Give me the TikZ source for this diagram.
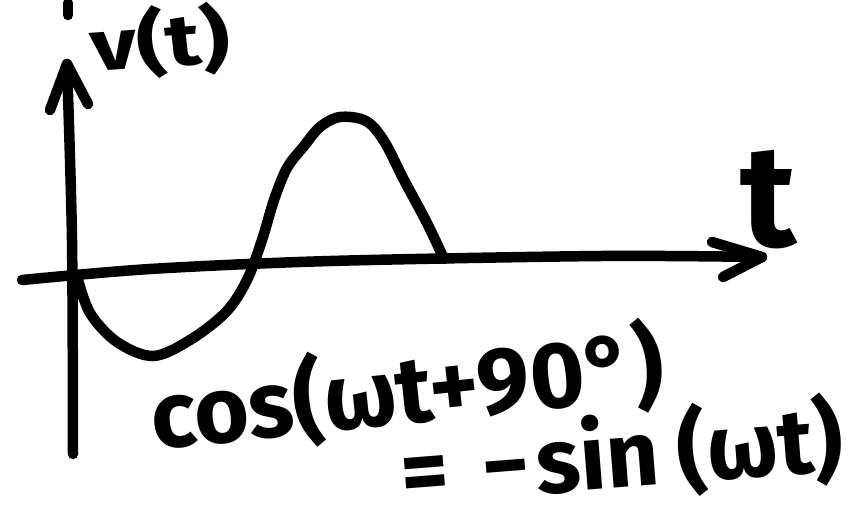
\documentclass[tikz,border=0pt]{standalone}
\usepackage{fontspec}
\setmainfont{Fira Sans}
\begin{document}
\begin{tikzpicture}[x=1pt,y=-1pt,
  ink/.style={line width=10.5pt,line cap=round,line join=round,black},
  hand/.style={font=\bfseries\fontsize{#1}{#1}\selectfont,inner sep=0pt}]
\useasboundingbox (0,0) rectangle (866,531);
% vertical axis with open arrow head
\coordinate (ybot) at (73,454);
\coordinate (ymid) at (72,240);
\coordinate (ytop) at (67,64);
\coordinate (yw1) at (50,110);
\coordinate (yw2) at (88,104);
\draw[ink] plot[smooth] coordinates {(ybot) (ymid) (ytop)};
\draw[ink] (yw1) -- (ytop) -- (yw2);
% horizontal axis with open arrow head
\coordinate (xleft) at (22,280);
\coordinate (xa) at (150,269);
\coordinate (xb) at (330,261);
\coordinate (xc) at (600,256);
\coordinate (xright) at (762,257);
\coordinate (xw1) at (712,242);
\coordinate (xw2) at (723,277);
\draw[ink] plot[smooth] coordinates {(xleft) (xa) (xb) (xc) (xright)};
\draw[ink] (xw1) -- (xright) -- (xw2);
% stray mark at the top
\coordinate (mk1) at (68,3);
\coordinate (mk2) at (68,15);
\draw[ink] (mk1) -- (mk2);
% waveform
\draw[ink] plot[smooth,tension=0.55] coordinates {
  (77,276) (90,313) (117,342) (153,356) (190,340) (226,312) (247,280)
  (262,240) (274,200) (287,168) (304,146) (320,127) (340,117) (366,121)
  (384,141) (404,180) (427,223) (444,259)};
% labels
\node[hand=72,xscale=1.25,rotate=5] (vt) at (160,42) {v(t)};
\node[hand=145] (tl) at (768,200) {t};
\node[hand=94,rotate=6,anchor=base west] (cosl) at (154,450) {cos(ωt+90°)};
\node[hand=92,rotate=4.5,anchor=base west] (sinl) at (403,505)
  {=\hspace{34pt}−\hspace{6pt}sin\hspace{18pt}(ωt)};
\end{tikzpicture}
\end{document}
